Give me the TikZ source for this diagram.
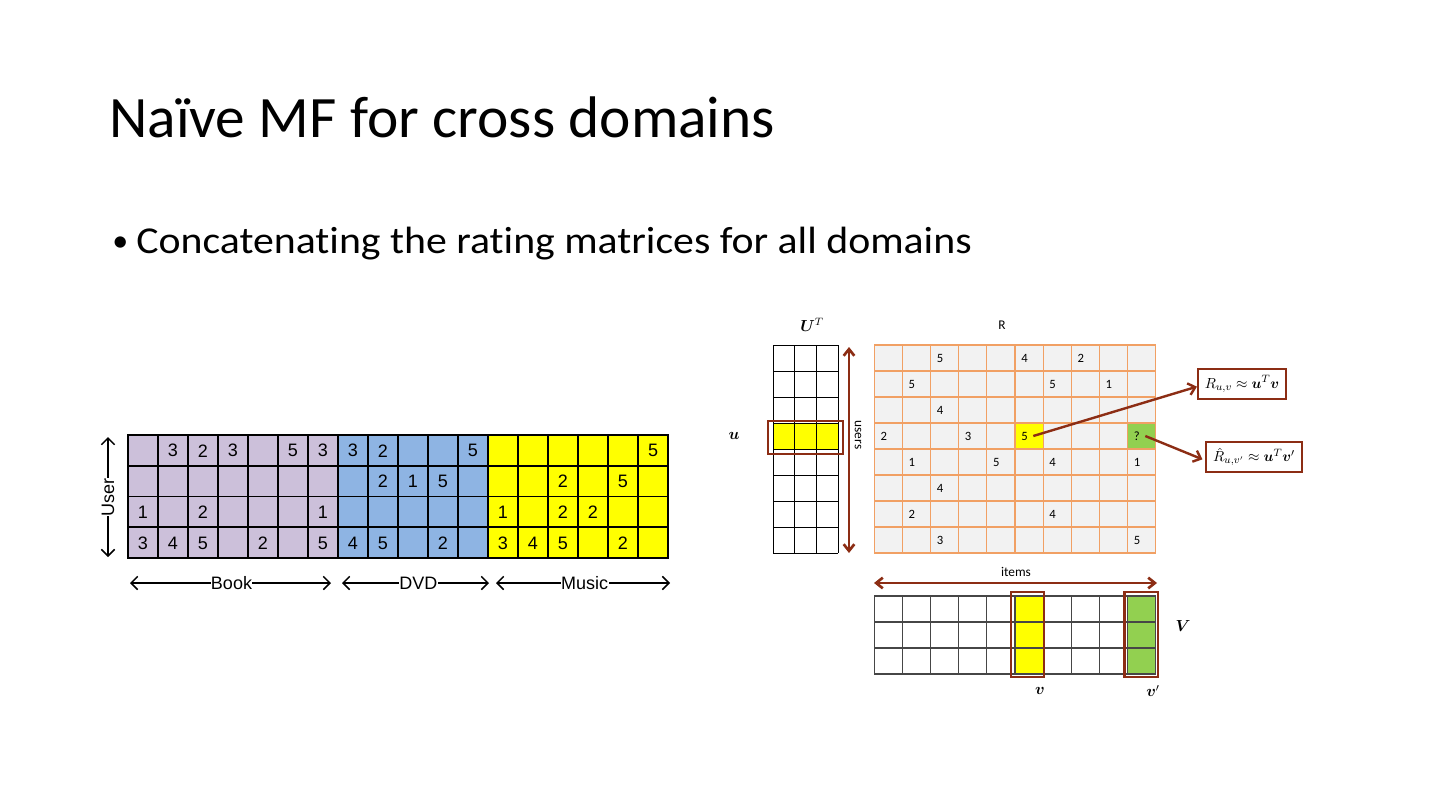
\documentclass[tikz,border=0pt]{standalone}
\usepackage{fontspec}
\usepackage{amsmath,bm}
\setmainfont{Carlito}
\newfontfamily\arialf{Liberation Sans}
\newfontfamily\bodyf{Carlito}[Ligatures=NoCommon]
\usetikzlibrary{arrows.meta}
\definecolor{book}{RGB}{204,192,218}
\definecolor{dvd}{RGB}{142,180,227}
\definecolor{mus}{RGB}{255,255,0}
\definecolor{brn}{RGB}{140,45,20}
\definecolor{org}{RGB}{241,160,100}
\definecolor{rgray}{RGB}{242,242,242}
\definecolor{grn}{RGB}{146,208,80}
\definecolor{vgrid}{RGB}{70,70,70}
\begin{document}
\begin{tikzpicture}[x=0.75pt,y=-0.75pt,
  num/.style={font=\arialf\fontsize{13.5}{14}\selectfont,inner sep=0pt},
  rnum/.style={font=\fontsize{9.5}{10}\selectfont,inner sep=0pt,anchor=west},
  darr/.style={line width=1.1pt,{Straight Barb[length=5pt,width=10pt]}-{Straight Barb[length=5pt,width=10pt]}},
  domlab/.style={font=\arialf\fontsize{13.5}{14}\selectfont,fill=white,inner sep=0.3pt},
  barr/.style={draw=brn,line width=2pt,{Straight Barb[length=5pt,width=8pt]}-{Straight Barb[length=5pt,width=8pt]}},
  parr/.style={draw=brn,line width=1.8pt,-{Straight Barb[length=5pt,width=9pt]}},
  hbox/.style={draw=brn,line width=1.8pt},
  eqbox/.style={draw=brn,line width=1.6pt,inner sep=3pt,font=\fontsize{11}{13}\selectfont},
  small/.style={font=\fontsize{10}{12}\selectfont,inner sep=1pt},
  mlab/.style={font=\fontsize{12}{14}\selectfont,inner sep=1pt}]
\useasboundingbox[fill=white] (0,0) rectangle (1440,810);

% title and bullet
\node[anchor=base west,inner sep=0pt,font=\fontsize{44}{50}\selectfont] (title) at (109,137) {\scalebox{1.012}[1]{Naïve MF for cross domains}};
\node[anchor=base west,inner sep=0pt,font=\fontsize{24}{28}\selectfont] (bul) at (112,251) {\textbullet};
\node[anchor=base west,inner sep=0pt,font=\bodyf\fontsize{28.5}{32}\selectfont] (bullet) at (136,253) {\scalebox{1.1}[1]{Concatenating the rating matrices for all domains}};

% ---------- left concatenated matrix ----------
\fill[book] (128,435) rectangle (338,558);
\fill[dvd] (338,435) rectangle (488,558);
\fill[mus] (488,435) rectangle (668,558);
\foreach \i in {0,...,18} \draw[line width=1.2pt] ({128+30*\i},435) -- ({128+30*\i},558);
\foreach \j in {0,...,4} \draw[line width=1.2pt] (127.4,{435+30.75*\j}) -- (668.6,{435+30.75*\j});
\foreach \c/\r/\v in {1/0/3,2/0/2,3/0/3,5/0/5,6/0/3,7/0/3,8/0/2,11/0/5,17/0/5,
  8/1/2,9/1/1,10/1/5,14/1/2,16/1/5,
  0/2/1,2/2/2,6/2/1,12/2/1,14/2/2,15/2/2,
  0/3/3,1/3/4,2/3/5,4/3/2,6/3/5,7/3/4,8/3/5,10/3/2,12/3/3,13/3/4,14/3/5,16/3/2}
  \node[num] (L-\c-\r) at ({128+30*\c+15},{435+30.75*\r+15.8}) {\v};

\coordinate (userT) at (108,437);
\coordinate (userB) at (108,557);
\draw[darr] (userT) -- (userB) node[midway,domlab,rotate=90] {User};
\coordinate (bookL) at (130,583);
\coordinate (bookR) at (331,583);
\draw[darr] (bookL) -- (bookR) node[pos=0.505,domlab] {Book};
\coordinate (dvdL) at (342,583);
\coordinate (dvdR) at (489,583);
\draw[darr] (dvdL) -- (dvdR) node[pos=0.52,domlab] {DVD};
\coordinate (musL) at (496,583);
\coordinate (musR) at (670,583);
\draw[darr] (musL) -- (musR) node[pos=0.51,domlab] {Music};

% ---------- U^T ----------
\fill[mus] (773,423) rectangle (838,449);
\foreach \i in {0,...,3} \draw[line width=0.7pt] ({773+21.67*\i},345) -- ({773+21.67*\i},553);
\foreach \j in {0,...,8} \draw[line width=0.7pt] (773,{345+26*\j}) -- (838,{345+26*\j});
\draw[hbox] (768,421) rectangle (843,454);
\node[mlab] (ulab) at (734,436) {$\bm{u}$};
\node[mlab] (UTlab) at (812,325) {$\bm{U}^{T}$};
\coordinate (usT) at (849,347);
\coordinate (usB) at (849,553);
\draw[barr] (usT) -- (usB);
\node[small,rotate=-90] (users) at (858,435) {users};

% ---------- R ----------
\fill[rgray] (874.3,345) rectangle (1155.7,553);
\fill[mus] ({874.3+28.14*5},423) rectangle ++(28.14,26);
\fill[grn] ({874.3+28.14*9},423) rectangle ++(28.14,26);
\foreach \i in {0,...,10} \draw[org,line width=0.8pt] ({874.3+28.14*\i},345) -- ({874.3+28.14*\i},553);
\foreach \j in {0,...,8} \draw[org,line width=0.8pt] (874.3,{345+26*\j}) -- (1155.7,{345+26*\j});
\foreach \c/\r/\v in {2/0/5,5/0/4,7/0/2,1/1/5,6/1/5,8/1/1,2/2/4,0/3/2,3/3/3,
  1/4/1,4/4/5,6/4/4,9/4/1,2/5/4,1/6/2,6/6/4,2/7/3,9/7/5}
  \node[rnum] (R-\c-\r) at ({874.3+28.14*\c+6},{345+26*\r+13}) {\v};
\node[rnum] (rv) at ({874.3+28.14*5+6},{345+26*3+13}) {5};
\node[rnum] (rq) at ({874.3+28.14*9+6},{345+26*3+13}) {?};
\node[small] (Rlab) at (1002,325) {R};

% equation boxes
\node[eqbox,minimum width=66pt,minimum height=23pt] (box1) at (1242,384) {$R_{u,v}\approx \bm{u}^{T}\bm{v}$};
\node[eqbox,minimum width=72pt,minimum height=22pt] (box2) at (1254,457) {$\hat{R}_{u,v'}\approx \bm{u}^{T}\bm{v}'$};
\draw[parr] ([xshift=4pt]rv.east) -- ([yshift=-2pt]box1.west);
\draw[parr,shorten >=2pt] ([xshift=4pt]rq.east) -- ([yshift=-2.5pt]box2.west);

% ---------- items arrow and V ----------
\coordinate (itL) at (874,583);
\coordinate (itR) at (1157,583);
\draw[barr] (itL) -- (itR);
\node[small] (items) at (1016,572) {items};
\fill[mus] ({874.3+28.14*5},596) rectangle ++(28.14,78);
\fill[grn] ({874.3+28.14*9},596) rectangle ++(28.14,78);
\foreach \i in {0,...,10} \draw[vgrid,line width=0.9pt] ({874.3+28.14*\i},596) -- ({874.3+28.14*\i},674);
\foreach \j in {0,...,3} \draw[vgrid,line width=0.9pt] (874.3,{596+26*\j}) -- (1155.7,{596+26*\j});
\draw[hbox] (1011,592) rectangle (1044,677);
\draw[hbox] (1124.3,592) rectangle (1157.7,677);
\node[mlab] (vlab) at (1040,691) {$\bm{v}$};
\node[mlab] (vplab) at (1153,691) {$\bm{v}'$};
\node[mlab] (Vlab) at (1183,626) {$\bm{V}$};
\end{tikzpicture}
\end{document}
